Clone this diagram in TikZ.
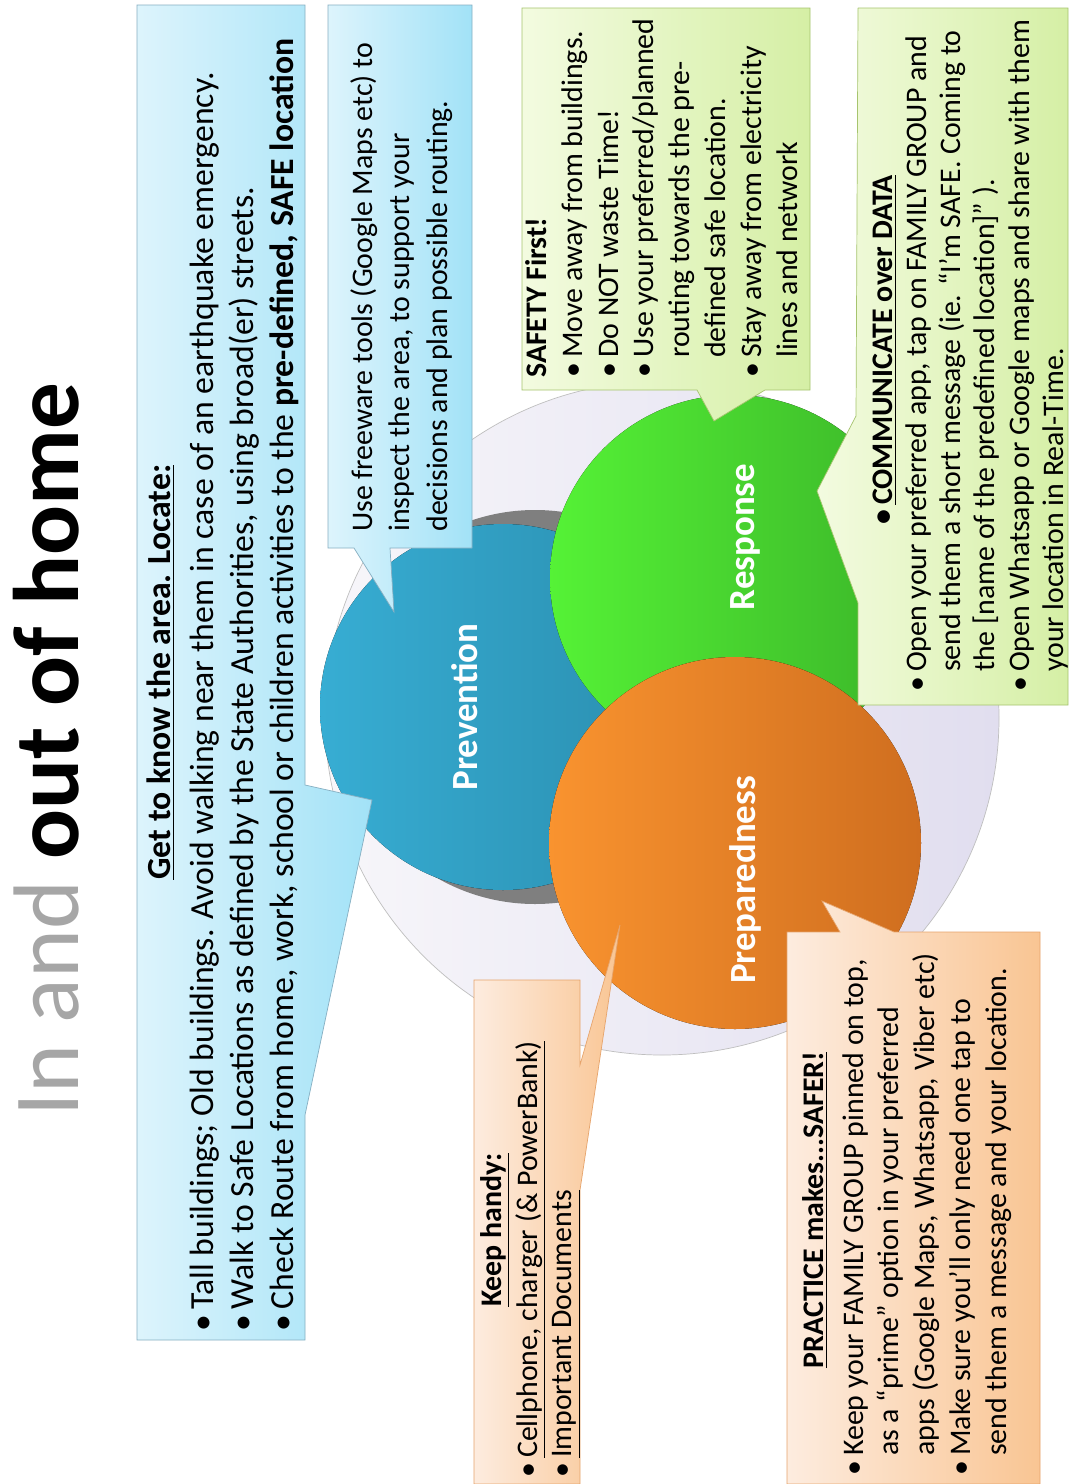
\documentclass[tikz,border=0pt]{standalone}
\usepackage{fontspec}
\setmainfont{Carlito}
\usepackage{xcolor}
\usepackage{tikz}

\definecolor{prevL}{HTML}{37ADD3}
\definecolor{prevR}{HTML}{2A8DAE}
\definecolor{respL}{HTML}{55F236}
\definecolor{respR}{HTML}{3BB529}
\definecolor{prepL}{HTML}{F9932F}
\definecolor{prepR}{HTML}{CF6E1F}
\definecolor{blueboxL}{HTML}{DDF4FC}
\definecolor{blueboxR}{HTML}{A2E2F7}
\definecolor{blueline}{HTML}{86AFC2}
\definecolor{greenboxL}{HTML}{F3FBE0}
\definecolor{greenboxR}{HTML}{D5EFA5}
\definecolor{greenline}{HTML}{A6C46E}
\definecolor{orangeboxL}{HTML}{FDECDF}
\definecolor{orangeboxR}{HTML}{F9C593}
\definecolor{orangeline}{HTML}{E6A46C}
\definecolor{ringL}{HTML}{F7F6FA}
\definecolor{ringR}{HTML}{E1DEEF}
\definecolor{titlegray}{HTML}{A6A6A6}
\definecolor{globegray}{HTML}{7F7F7F}

\tikzset{
  bluebox/.style={draw=blueline, left color=blueboxL, right color=blueboxR},
  greenbox/.style={draw=greenline, left color=greenboxL, right color=greenboxR},
  orangebox/.style={draw=orangeline, left color=orangeboxL, right color=orangeboxR},
  boxtext/.style={rotate=90, anchor=north west, inner sep=0pt, align=left,
    font=\fontsize{17}{20.4}\selectfont},
  boxhead/.style={rotate=90, inner sep=0pt, font=\fontsize{17}{20.4}\selectfont\bfseries},
  ringlabel/.style={rotate=90, text=white, inner sep=0pt, font=\fontsize{21}{24}\selectfont\bfseries}
}

\newcommand{\blt}{\textbullet\,}
\newcommand{\ind}{\hphantom{\textbullet\,}}

\begin{document}
\begin{tikzpicture}[x=0.02cm,y=-0.02cm]
    \useasboundingbox (0,0) rectangle (1070,1484);
    \fill[white] (0,0) rectangle (1070,1484);

    % Title
    \node[rotate=90, anchor=base west, inner sep=0pt, font=\fontsize{53}{60}\selectfont]
        (title) at (78,1117) {\textcolor{titlegray}{In and} \textbf{out of home}};

    % Background ring and circles
    \draw[draw=gray!50, left color=ringL, right color=ringR] (662,718) circle (337);
    \fill[globegray] (535,707) circle (197);
    \fill[left color=prevL, right color=prevR] (503,707) circle (183);
    \fill[left color=respL, right color=respR] (733,578) circle (183);
    \fill[left color=prepL, right color=prepR] (735,843) circle (186);
    \node[ringlabel] (prevention) at (465,707) {Prevention};
    \node[ringlabel] (response) at (745,537) {Response};
    \node[ringlabel] (preparedness) at (745,880) {Preparedness};

    % Prevention callouts
    \path[bluebox] (137,5) -- (305,5) -- (305,785) -- (372,800) -- (305,1115)
        -- (305,1340) -- (137,1340) -- cycle;
    \node[boxhead, font=\fontsize{19.2}{22.7}\selectfont\bfseries] (locate) at (161,672)
        {\underline{Get to know the area. Locate:}};
    \node[boxtext, font=\fontsize{19.2}{22.7}\selectfont] (locatelist) at (190,1332) {%
        \blt Tall buildings; Old buildings. Avoid walking near them in case of an earthquake emergency.\\
        \blt Walk to Safe Locations as defined by the State Authorities, using broad(er) streets.\\
        \blt Check Route from home, work, school or children activities to the \textbf{pre-defined, SAFE location}};

    \path[bluebox] (328,5) -- (472,5) -- (472,548) -- (390,548) -- (394,612)
        -- (354,548) -- (328,548) -- cycle;
    \node[boxtext, font=\fontsize{17}{21.3}\selectfont] (freeware) at (350,532) {%
        Use freeware tools (Google Maps etc) to\\
        inspect the area, to support your\\
        decisions and plan possible routing.};

    % Response callouts
    \path[greenbox] (522,8) -- (810,8) -- (810,390) -- (765,390) -- (714,421)
        -- (697,390) -- (522,390) -- cycle;
    \node[boxtext] (safety) at (525,378) {%
        \textbf{SAFETY First!}\\
        \blt Move away from buildings.\\
        \blt Do NOT waste Time!\\
        \blt Use your preferred/planned\\
        \ind routing towards the pre-\\
        \ind defined safe location.\\
        \blt Stay away from electricity\\
        \ind lines and network};

    \path[greenbox] (858,8) -- (1068,8) -- (1068,705) -- (858,705) -- (858,603)
        -- (817,491) -- (856,416) -- (858,8);
    \node[boxhead] (communicate) at (885,350) {\blt\underline{COMMUNICATE over DATA}};
    \node[boxtext, font=\fontsize{17}{19.6}\selectfont] (communicatelist) at (905,692) {%
        \blt Open your preferred app, tap on FAMILY GROUP and\\
        \ind send them a short message (ie. “I’m SAFE. Coming to\\
        \ind the [name of the predefined location]” ).\\
        \blt Open Whatsapp or Google maps and share with them\\
        \ind your location in Real-Time.};

    % Preparedness callouts
    \path[orangebox] (474,980) -- (580,980) -- (580,1065) -- (620,925) -- (580,1190)
        -- (580,1484) -- (474,1484) -- cycle;
    \node[boxhead] (handy) at (495,1230) {\underline{Keep handy:}};
    \node[boxtext, font=\fontsize{17}{19.8}\selectfont] (handylist) at (515,1478) {%
        \blt\underline{Cellphone, charger (\& PowerBank)}\\
        \blt\underline{Important Documents}};

    \path[orangebox] (787,932) -- (840,932) -- (822,901) -- (894,932) -- (1040,932)
        -- (1040,1484) -- (787,1484) -- cycle;
    \node[boxhead] (practice) at (815,1210) {\underline{PRACTICE makes...SAFER!}};
    \node[boxtext, font=\fontsize{17}{20.4}\selectfont] (practicelist) at (842,1476) {%
        \blt Keep your FAMILY GROUP pinned on top,\\
        \ind as a “prime” option in your preferred\\
        \ind apps (Google Maps, Whatsapp, Viber etc)\\
        \blt Make sure you’ll only need one tap to\\
        \ind send them a message and your location.};
\end{tikzpicture}
\end{document}
